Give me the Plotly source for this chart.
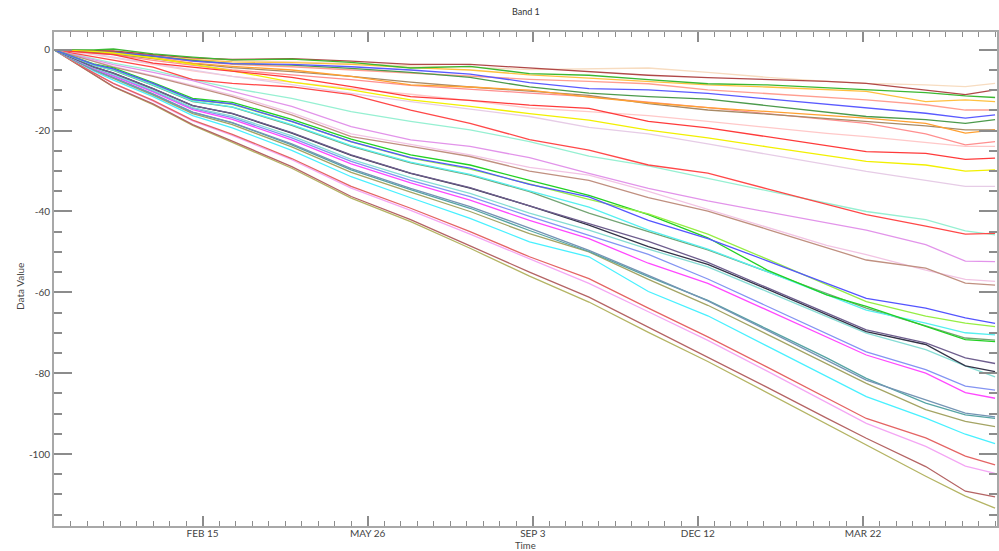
import plotly.graph_objects as go

dates = ["2016-11-17", "2016-12-11", "2016-12-23", "2017-01-16", "2017-02-09",
         "2017-03-05", "2017-04-10", "2017-05-16", "2017-06-21", "2017-07-27",
         "2017-09-01", "2017-10-07", "2017-11-12", "2017-12-18", "2018-01-23",
         "2018-02-28", "2018-03-24", "2018-04-29", "2018-05-23", "2018-06-10"]

tick_dates = ["2017-02-15", "2017-05-26", "2017-09-03", "2017-12-12", "2018-03-22"]
tick_labels = ["FEB 15", "MAY 26", "SEP 3", "DEC 12", "MAR 22"]
y_ticks = [0, -20, -40, -60, -80, -100]

# upper group
s_green = [0, 0.0, 0.2, -1.0, -1.8, -2.5, -2.3, -3.1, -4.5, -4.1, -5.9, -6.3, -7.4, -8.4, -8.7, -9.4, -9.9, -10.6, -11.4, -11.8]
s_darkred = [0, -0.2, -0.3, -1.2, -2.0, -2.4, -2.2, -2.8, -3.6, -3.6, -4.5, -5.4, -6.3, -6.9, -7.3, -7.8, -8.3, -9.9, -11.1, -9.9]
s_peach = [0, -0.3, -0.6, -1.3, -2.0, -2.6, -3.0, -3.4, -4.0, -4.3, -4.9, -4.7, -4.5, -5.6, -6.8, -7.8, -8.3, -8.7, -9.1, -8.3]
s_gold = [0, -0.4, -0.8, -1.6, -2.4, -3.0, -3.2, -3.6, -4.4, -5.0, -6.2, -7.0, -7.8, -8.7, -9.2, -9.9, -10.3, -12.8, -12.4, -12.8]
s_salmon = [0, -0.5, -1.0, -2.0, -2.8, -3.6, -4.2, -5.0, -5.8, -6.5, -7.3, -7.8, -8.4, -9.9, -10.8, -11.8, -12.4, -13.6, -14.9, -14.9]
s_blue_top = [0, -0.3, -0.6, -1.5, -2.8, -3.4, -3.6, -4.2, -5.0, -6.0, -8.1, -9.6, -9.9, -10.8, -12.1, -13.5, -14.4, -15.7, -16.9, -16.1]
s_darkgreen = [0, -0.4, -0.7, -1.6, -2.6, -3.4, -3.8, -4.6, -5.6, -6.8, -9.2, -10.7, -11.6, -12.2, -13.8, -15.4, -16.5, -17.3, -18.2, -17.3]
s_orange = [0, -0.2, -0.4, -2.1, -3.3, -4.1, -5.0, -6.6, -8.7, -9.2, -10.0, -11.7, -13.1, -14.3, -15.3, -16.3, -16.9, -18.2, -20.6, -19.8]
s_tan = [0, -0.6, -1.0, -2.2, -3.4, -4.4, -5.4, -6.6, -8.0, -9.2, -10.3, -11.3, -13.3, -14.9, -15.9, -17.0, -17.7, -18.8, -19.8, -19.8]
s_salmon2 = [0, -0.7, -1.2, -2.6, -3.8, -5.0, -6.2, -7.4, -8.8, -9.8, -10.7, -11.6, -12.9, -14.3, -15.8, -17.2, -18.2, -20.8, -23.5, -22.7]
s_lightpink = [0, -1.2, -2.0, -3.6, -5.2, -6.6, -8.0, -9.6, -11.0, -12.6, -14.4, -15.3, -16.3, -17.7, -19.2, -20.7, -21.5, -22.9, -23.9, -23.9]
s_red = [0, -0.7, -1.2, -3.3, -4.3, -5.4, -6.8, -9.1, -11.6, -12.5, -13.7, -14.5, -17.7, -19.3, -21.5, -23.8, -25.2, -25.6, -27.1, -26.8]
s_yellow = [0, -0.4, -0.8, -2.0, -3.6, -5.2, -8.0, -9.9, -12.4, -14.0, -15.8, -17.4, -19.9, -21.8, -24.0, -26.2, -27.6, -28.5, -30.0, -29.7]
s_lavender = [0, -1.0, -1.8, -3.4, -5.0, -6.6, -8.6, -10.8, -12.8, -14.6, -16.5, -19.2, -20.8, -23.3, -25.8, -28.4, -30.1, -32.3, -33.8, -33.8]
s_red2 = [0, -1.7, -2.6, -4.3, -7.4, -8.3, -9.2, -11.1, -14.9, -18.2, -22.2, -24.8, -28.5, -30.5, -34.4, -38.2, -40.8, -43.6, -45.6, -45.4]
s_mint = [0, -2.1, -3.3, -5.1, -7.4, -9.5, -12.0, -15.3, -17.7, -19.8, -22.7, -26.3, -28.7, -31.8, -34.9, -37.9, -40.0, -42.0, -44.8, -45.8]
s_violet = [0, -2.5, -3.7, -5.6, -7.6, -10.3, -14.0, -19.0, -22.3, -23.9, -26.7, -30.6, -34.3, -37.4, -40.1, -42.7, -44.6, -48.2, -52.3, -52.4]
s_rosybrown = [0, -2.9, -4.3, -6.6, -9.1, -11.6, -16.1, -21.5, -23.9, -26.4, -30.0, -32.3, -36.6, -39.9, -44.4, -48.9, -52.0, -54.0, -57.7, -58.2]
s_pinklight2 = [0, -2.8, -4.1, -6.4, -8.8, -11.2, -15.6, -20.8, -23.4, -26.0, -29.1, -31.0, -35.0, -39.5, -44.0, -48.4, -50.7, -54.5, -56.8, -57.3]

# lower group
s_blue = [0, -3.6, -4.7, -8.3, -12.3, -13.4, -17.7, -22.7, -26.7, -29.3, -33.3, -36.4, -42.2, -46.7, -52.2, -57.8, -61.5, -63.9, -66.3, -67.7]
s_lime = [0, -3.6, -4.8, -8.4, -12.4, -13.5, -17.8, -22.8, -26.8, -29.5, -33.2, -37.0, -40.6, -45.6, -51.8, -58.1, -62.3, -65.9, -67.6, -68.5]
s_green2 = [0, -3.5, -4.5, -8.1, -12.0, -13.0, -17.2, -22.1, -26.0, -28.5, -32.3, -36.0, -40.8, -46.5, -54.5, -60.6, -63.5, -68.4, -71.7, -72.2]
s_cyan = [0, -3.8, -5.0, -8.7, -12.7, -14.1, -18.5, -23.7, -27.8, -30.8, -34.9, -38.9, -44.6, -49.3, -54.9, -60.6, -64.4, -67.6, -70.0, -70.5]
s_sage = [0, -3.8, -5.1, -8.8, -12.8, -14.2, -18.7, -23.9, -28.0, -31.0, -35.1, -40.4, -45.0, -49.5, -54.9, -60.3, -63.9, -68.3, -71.3, -71.8]
s_purple = [0, -4.2, -5.8, -9.6, -13.8, -15.7, -20.5, -26.0, -30.5, -34.1, -38.6, -43.0, -47.4, -52.6, -58.8, -65.1, -69.3, -72.5, -76.2, -77.6]
s_navy = [0, -4.2, -5.8, -9.6, -13.8, -15.8, -20.6, -26.1, -30.6, -34.2, -38.6, -43.4, -48.7, -53.1, -59.2, -65.5, -69.7, -72.9, -78.2, -79.6]
s_aqua = [0, -4.4, -6.1, -10.0, -14.3, -16.4, -21.3, -27.1, -31.6, -35.5, -40.4, -44.6, -49.3, -53.7, -59.8, -66.0, -70.1, -74.2, -78.2, -80.9]
s_lilac = [0, -4.5, -6.3, -10.2, -14.5, -16.8, -21.8, -27.6, -32.3, -36.3, -41.2, -45.9, -50.6, -56.7, -63.4, -70.1, -74.7, -79.1, -83.2, -84.2]
s_magenta = [0, -4.6, -6.5, -10.4, -14.8, -17.2, -22.3, -28.2, -32.9, -37.2, -42.2, -46.7, -52.8, -57.8, -64.4, -71.0, -75.5, -80.0, -84.8, -86.2]
s_steel = [0, -4.9, -6.9, -10.9, -15.4, -18.0, -23.3, -29.4, -34.3, -38.8, -44.1, -49.6, -55.8, -62.1, -69.4, -76.7, -81.7, -86.6, -89.9, -90.8]
s_teal = [0, -4.9, -6.9, -11.0, -15.5, -18.1, -23.5, -29.7, -34.6, -39.2, -44.7, -49.9, -56.1, -62.0, -69.1, -76.2, -81.3, -87.4, -90.3, -91.2]
s_olive2 = [0, -5.0, -7.1, -11.2, -15.8, -18.5, -24.0, -30.3, -35.2, -40.0, -45.5, -50.0, -56.8, -63.2, -70.4, -77.6, -82.5, -89.0, -91.9, -93.2]
s_cyan2 = [0, -5.2, -7.5, -11.6, -16.3, -19.3, -24.9, -31.4, -36.6, -41.7, -47.5, -51.2, -59.8, -65.8, -73.3, -80.8, -85.8, -91.1, -95.1, -97.4]
s_red3 = [0, -5.7, -8.3, -12.5, -17.4, -20.9, -26.9, -33.8, -39.2, -45.0, -51.2, -56.6, -63.9, -71.0, -78.5, -86.1, -91.2, -96.0, -100.5, -102.7]
s_pink = [0, -5.7, -8.4, -12.7, -17.6, -21.2, -27.2, -34.2, -39.7, -45.6, -51.7, -57.8, -64.8, -71.9, -79.5, -87.3, -92.4, -98.1, -103.0, -104.8]
s_brown = [0, -6.1, -9.1, -13.4, -18.5, -22.6, -28.9, -36.3, -42.0, -48.5, -55.0, -61.2, -68.6, -75.9, -83.5, -91.1, -96.1, -103.1, -109.2, -110.6]
s_olive = [0, -6.2, -9.2, -13.6, -18.7, -22.9, -29.3, -36.7, -42.5, -49.1, -56.0, -62.4, -69.9, -77.1, -84.8, -92.6, -97.8, -105.5, -110.4, -113.4]

series = [
    (s_peach, "#f7dcc0"), (s_lightpink, "#ffc8c8"), (s_lavender, "#e6cce6"),
    (s_pinklight2, "#f2c4e4"), (s_salmon, "#ff9e90"), (s_salmon2, "#ff8f8f"),
    (s_tan, "#a88a66"), (s_orange, "#ffa030"), (s_gold, "#ffc040"),
    (s_darkgreen, "#4c9a4c"), (s_blue_top, "#5a5aff"), (s_darkred, "#b04848"),
    (s_green, "#3cb832"), (s_yellow, "#f2f000"), (s_red, "#ff3a3a"),
    (s_mint, "#96f0d2"), (s_red2, "#ff4848"), (s_violet, "#e294ea"),
    (s_rosybrown, "#c09080"),
    (s_olive, "#b4b464"), (s_brown, "#b46464"), (s_pink, "#f4a6f4"),
    (s_red3, "#e46464"), (s_cyan2, "#48f0ff"), (s_olive2, "#a4a464"),
    (s_teal, "#56a4a4"), (s_steel, "#7494b4"), (s_magenta, "#ff48ff"),
    (s_lilac, "#8494f2"), (s_aqua, "#86dcd4"), (s_navy, "#343448"),
    (s_purple, "#6e5e8e"), (s_sage, "#74a474"), (s_cyan, "#56f0f0"),
    (s_green2, "#22d022"), (s_lime, "#96ee44"), (s_blue, "#5454ff"),
]

fig = go.Figure()
for vals, col in series:
    fig.add_trace(go.Scatter(x=dates, y=vals, mode="lines",
                             line=dict(color=col, width=1.3),
                             showlegend=False, hoverinfo="skip"))

axis_col = "#a8a8a8"
tick_col = "#8c8c8c"
font_family = "Lato, Open Sans, sans-serif"

fig.update_layout(
    width=999, height=551,
    margin=dict(l=54, r=2, t=32, b=25),
    paper_bgcolor="white", plot_bgcolor="white",
    showlegend=False,
    font=dict(family=font_family, size=10, color="#444"),
)

fig.update_xaxes(
    type="date",
    range=["2016-11-17", "2018-06-11 04:00"],
    tickmode="array", tickvals=tick_dates, ticktext=tick_labels,
    ticks="inside", ticklen=10, tickwidth=1.5, tickcolor=tick_col,
    minor=dict(dtick=864000000, tick0="2016-11-17", ticks="inside",
               ticklen=5, tickwidth=1.2, tickcolor=tick_col),
    showline=True, linecolor=axis_col, linewidth=2, mirror="allticks",
    showgrid=False, zeroline=False,
    tickfont=dict(family=font_family, size=10, color="#444"),
    ticklabelstandoff=-3,
    automargin=False,
)

fig.update_yaxes(
    range=[-117.8, 4.4],
    tickmode="array", tickvals=y_ticks, ticktext=[str(v) for v in y_ticks],
    ticks="inside", ticklen=18, tickwidth=2, tickcolor=tick_col,
    minor=dict(dtick=5, tick0=0, ticks="inside", ticklen=8, tickwidth=1.5,
               tickcolor=tick_col),
    showline=True, linecolor=axis_col, linewidth=2, mirror="allticks",
    showgrid=False, zeroline=False,
    tickfont=dict(family=font_family, size=10, color="#444"),
    automargin=False,
)

fig.add_annotation(text="Band 1", xref="paper", yref="paper", x=0.5, y=1.0405,
                   showarrow=False, xanchor="center", yanchor="middle",
                   font=dict(family=font_family, size=9, color="#333"))
fig.add_annotation(text="Time", xref="paper", yref="paper", x=0.5, y=-0.0395,
                   showarrow=False, xanchor="center", yanchor="middle",
                   font=dict(family=font_family, size=9.5, color="#444"))
fig.add_annotation(text="Data Value", xref="paper", yref="paper", x=-0.036, y=0.484,
                   showarrow=False, xanchor="center", yanchor="middle", textangle=-90,
                   font=dict(family=font_family, size=10, color="#444"))

fig.write_html("out.html", config={"displayModeBar": False},
               post_script="document.body.style.margin='0';document.body.style.overflow='hidden';")
